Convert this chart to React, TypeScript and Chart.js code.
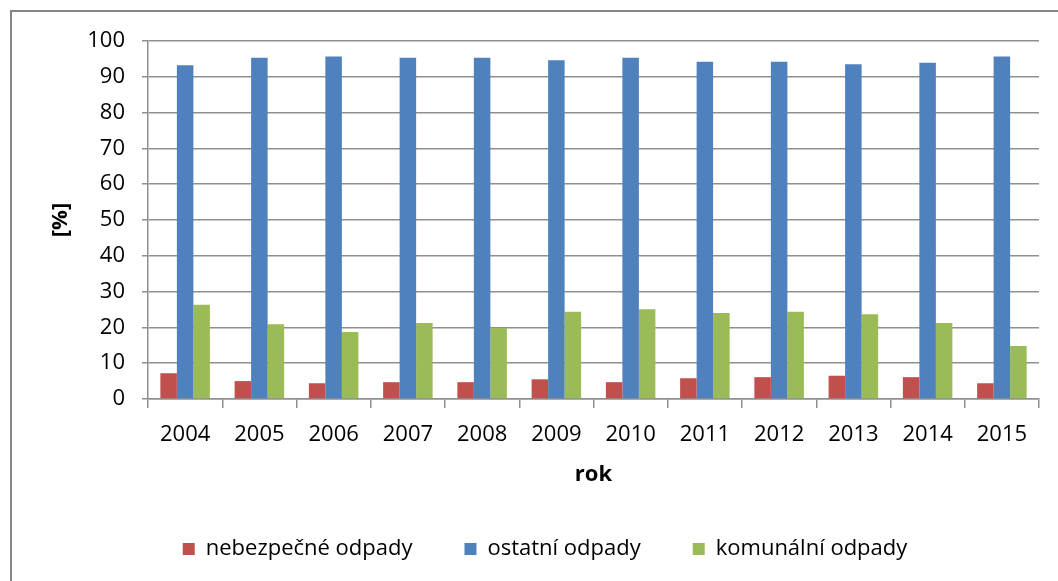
import React, { useEffect, useRef } from "react";
import { Chart, registerables } from "chart.js";

Chart.register(...registerables);

const years = ["2004", "2005", "2006", "2007", "2008", "2009", "2010", "2011", "2012", "2013", "2014", "2015"];
const nebezpecne = [7.2, 5.0, 4.4, 4.7, 4.7, 5.5, 4.7, 5.8, 6.1, 6.5, 6.1, 4.4];
const ostatni = [93.2, 95.3, 95.7, 95.3, 95.3, 94.6, 95.3, 94.2, 94.2, 93.5, 93.9, 95.7];
const komunalni = [26.3, 20.9, 18.7, 21.2, 19.8, 24.4, 25.1, 24.0, 24.4, 23.7, 21.2, 14.8];
const seriesNames = ["nebezpečné odpady", "ostatní odpady", "komunální odpady"];
const yTitle = "[%]";
const xTitle = "rok";

const FONT = "'Open Sans', sans-serif";
const LINE = "#8f8f8f";

export default function App() {
  const ref = useRef<HTMLCanvasElement | null>(null);
  useEffect(() => {
    if (!ref.current) return;
    const chart = new Chart(ref.current, {
      type: "bar",
      data: {
        labels: years,
        datasets: [
          { label: seriesNames[0], data: nebezpecne, backgroundColor: "#C0504D" },
          { label: seriesNames[1], data: ostatni, backgroundColor: "#4F81BD" },
          { label: seriesNames[2], data: komunalni, backgroundColor: "#9BBB59" },
        ],
      },
      options: {
        animation: false,
        responsive: false,
        layout: { padding: { left: 51, right: 19, top: 41, bottom: 11 } },
        datasets: { bar: { categoryPercentage: 0.667, barPercentage: 1 } },
        plugins: {
          legend: {
            position: "bottom",
            labels: {
              font: { family: FONT, size: 22 },
              color: "#000",
              boxWidth: 12,
              boxHeight: 12,
              padding: 52,
            },
          },
          tooltip: { enabled: false },
        },
        scales: {
          x: {
            grid: { drawOnChartArea: false, drawTicks: true, tickLength: 9, color: LINE, lineWidth: 1.5, offset: true },
            border: { display: true, color: LINE, width: 1.5 },
            ticks: { font: { family: FONT, size: 22 }, color: "#000", padding: 14, maxRotation: 0 },
            title: { display: true, text: xTitle, font: { family: FONT, size: 22, weight: "bold" }, color: "#000", padding: { top: 0, bottom: -2 } },
            afterFit: (s: any) => { s.height = 87; },
          },
          y: {
            min: 0,
            max: 100,
            ticks: { stepSize: 10, font: { family: FONT, size: 22 }, color: "#000", padding: 17 },
            grid: { color: LINE, lineWidth: 1.5, tickLength: 6, drawTicks: true },
            border: { display: true, color: LINE, width: 1.5 },
            title: { display: true, text: yTitle, font: { family: FONT, size: 22, weight: "bold" }, color: "#000", padding: { top: -3, bottom: 0 } },
            afterFit: (s: any) => { s.width = 97; },
          },
        },
      },
    });
    return () => chart.destroy();
  }, []);
  return (
    <div style={{ position: "fixed", left: 0, top: 0, width: 1058, height: 581, overflow: "hidden", background: "#fff" }}>
      <div style={{ position: "absolute", left: 10, top: 10, width: 1100, height: 620, border: "2px solid #868686", boxSizing: "border-box" }} />
      <canvas ref={ref} width={1058} height={581} style={{ position: "absolute", left: 0, top: 0, display: "block" }} />
    </div>
  );
}
